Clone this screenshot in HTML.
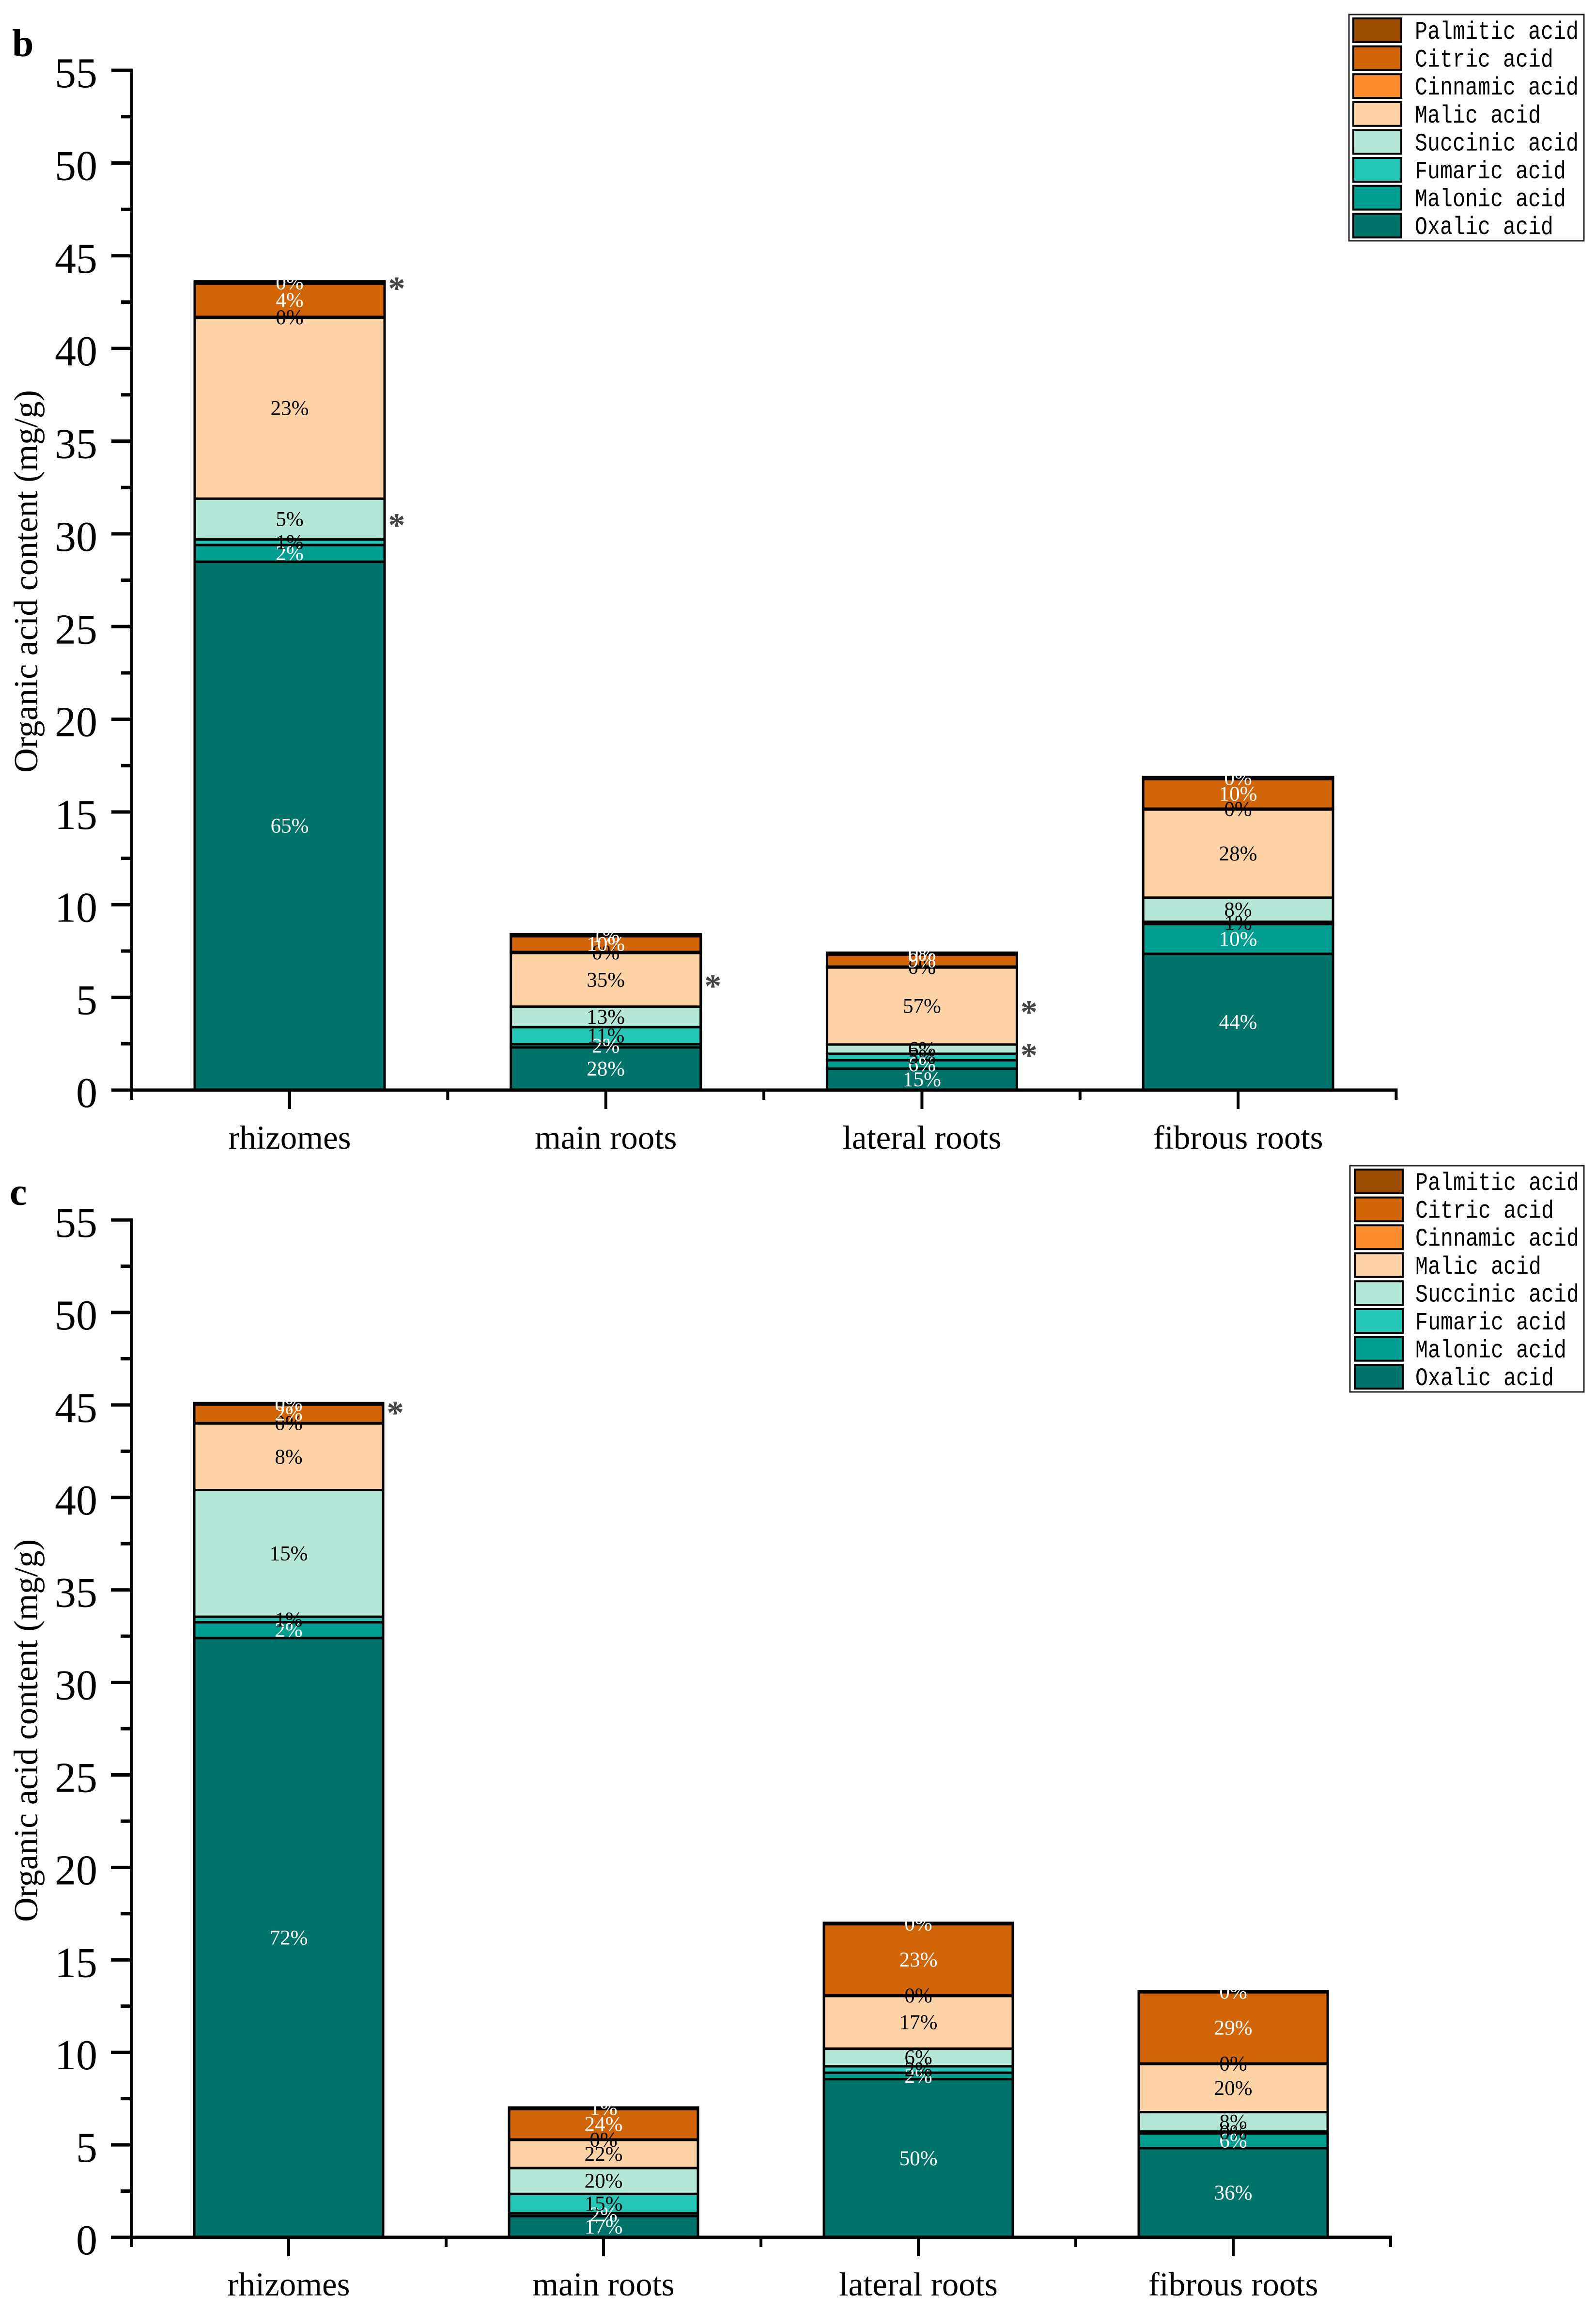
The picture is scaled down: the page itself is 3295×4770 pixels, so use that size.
<!DOCTYPE html>
<html lang="en">
<head>
<meta charset="utf-8">
<title>Organic acid content in plant parts</title>
<style>
html,body{margin:0;padding:0;background:#fff;}
svg{display:block;}
</style>
</head>
<body>
<svg id="figure" xmlns="http://www.w3.org/2000/svg" width="3295" height="4770" viewBox="0 0 3295 4770"></svg>
<script>
const categories = ['rhizomes', 'main roots', 'lateral roots', 'fibrous roots'];
const seriesNames = ['Oxalic acid', 'Malonic acid', 'Fumaric acid', 'Succinic acid', 'Malic acid', 'Cinnamic acid', 'Citric acid', 'Palmitic acid'];
const seriesColors = ['#00736b', '#009e90', '#26c6b6', '#b5e8d8', '#fdd3a6', '#fe8c2d', '#d16508', '#9a4b00'];
const labelColors = ['#fff', '#fff', '#000', '#000', '#000', '#000', '#fff', '#fff'];
const yMajorTicks = [0, 5, 10, 15, 20, 25, 30, 35, 40, 45, 50, 55];
const yMinorTicks = [2.5, 7.5, 12.5, 17.5, 22.5, 27.5, 32.5, 37.5, 42.5, 47.5, 52.5];

/* panel b values (mg/g) */
const bOxalic = [28.5, 2.3, 1.16, 7.35];
const bMalonic = [0.9, 0.17, 0.45, 1.6];
const bFumaric = [0.3, 0.93, 0.35, 0.13];
const bSuccinic = [2.2, 1.1, 0.5, 1.3];
const bMalic = [9.75, 2.9, 4.15, 4.75];
const bCinnamic = [0.05, 0.05, 0.05, 0.05];
const bCitric = [1.8, 0.85, 0.65, 1.6];
const bPalmitic = [0.12, 0.1, 0.1, 0.1];
/* panel b printed percentages */
const bOxalicPct = ['65%', '28%', '15%', '44%'];
const bMalonicPct = ['2%', '2%', '6%', '10%'];
const bFumaricPct = ['1%', '11%', '5%', '1%'];
const bSuccinicPct = ['5%', '13%', '6%', '8%'];
const bMalicPct = ['23%', '35%', '57%', '28%'];
const bCinnamicPct = ['0%', '0%', '0%', '0%'];
const bCitricPct = ['4%', '10%', '9%', '10%'];
const bPalmiticPct = ['0%', '1%', '0%', '0%'];
const bStarCategories = [0, 0, 1, 2, 2];
const bStarSeries = [7, 3, 4, 4, 3];

/* panel c values (mg/g) */
const cOxalic = [32.4, 1.15, 8.55, 4.82];
const cMalonic = [0.85, 0.15, 0.35, 0.8];
const cFumaric = [0.3, 1.05, 0.35, 0.1];
const cSuccinic = [6.85, 1.4, 0.95, 1.05];
const cMalic = [3.6, 1.52, 2.85, 2.6];
const cCinnamic = [0.02, 0.02, 0.03, 0.03];
const cCitric = [1.0, 1.65, 3.85, 3.85];
const cPalmitic = [0.08, 0.08, 0.07, 0.05];
/* panel c printed percentages */
const cOxalicPct = ['72%', '17%', '50%', '36%'];
const cMalonicPct = ['2%', '2%', '2%', '6%'];
const cFumaricPct = ['1%', '15%', '2%', '0%'];
const cSuccinicPct = ['15%', '20%', '6%', '8%'];
const cMalicPct = ['8%', '22%', '17%', '20%'];
const cCinnamicPct = ['0%', '0%', '0%', '0%'];
const cCitricPct = ['2%', '24%', '23%', '29%'];
const cPalmiticPct = ['0%', '1%', '0%', '0%'];
const cStarCategories = [0];
const cStarSeries = [7];

const svg = document.getElementById('figure');
const NS = 'http://www.w3.org/2000/svg';
const SERIF = '"Liberation Serif", serif';

function make(tag, attrs, text) {
  const el = document.createElementNS(NS, tag);
  for (const k in attrs) el.setAttribute(k, attrs[k]);
  if (text !== undefined) el.textContent = text;
  svg.appendChild(el);
  return el;
}

function drawPanel(p) {
  const yScale = v => p.y0 - v * p.pxPerUnit;
  const xScale = i => p.xFirst + i * p.step;
  const barW = p.barW;

  /* panel letter */
  const letter = make('text', {x: p.letterX, y: p.letterY, 'font-family': SERIF, 'font-size': 80, 'font-weight': 'bold', fill: '#000'}, p.letter);
  
  

  /* stacked bars */
  const cumulative = categories.map(() => 0);
  const centers = p.values.map(() => []);
  p.values.forEach((vals, s) => {
    vals.forEach((v, c) => {
      const bottom = cumulative[c];
      const top = bottom + v;
      cumulative[c] = top;
      centers[s][c] = (bottom + top) / 2;
      const rect = make('rect', {x: xScale(c) - barW / 2, y: yScale(top), width: barW, height: Math.max(yScale(bottom) - yScale(top), 0.5), fill: seriesColors[s], stroke: '#000', 'stroke-width': 5});
      
      
    });
  });

  /* percentage labels */
  p.pcts.forEach((labels, s) => {
    labels.forEach((t, c) => {
      const label = make('text', {x: xScale(c), y: yScale(centers[s][c]) + 14, 'text-anchor': 'middle', 'font-family': SERIF, 'font-size': 43, fill: labelColors[s]}, t);
      
      
    });
  });

  /* significance stars */
  p.starCats.forEach((c, i) => {
    const star = make('text', {x: xScale(c) + barW / 2 + 25, y: yScale(centers[p.starSeries[i]][c]) + p.starDy, 'text-anchor': 'middle', 'font-family': SERIF, 'font-size': 70, 'font-weight': 'bold', fill: '#444'}, '*');
    
    
  });

  /* y axis */
  const yAxis = make('rect', {x: p.xAxisStart - 3, y: yScale(55) - 3.5, width: 6, height: p.y0 + 20 - yScale(55) + 3.5, fill: '#000'});
  
  
  yMajorTicks.forEach(v => {
    const tick = make('rect', {x: p.xAxisStart - 42, y: yScale(v) - 3.5, width: 42, height: 7, fill: '#000'});
    
    
    const lab = make('text', {x: 201, y: yScale(v) + 35, 'text-anchor': 'end', 'font-family': SERIF, 'font-size': 88, fill: '#000'}, String(v));
    
    
  });
  yMinorTicks.forEach(v => {
    const tick = make('rect', {x: p.xAxisStart - 22, y: yScale(v) - 3.5, width: 22, height: 7, fill: '#000'});
    
    
  });

  /* x axis */
  const xAxis = make('rect', {x: p.xAxisStart - 42, y: p.y0 - 3.5, width: xScale(categories.length - 1) + p.step / 2 - p.xAxisStart + 45, height: 7, fill: '#000'});
  
  
  categories.forEach((name, c) => {
    const tick = make('rect', {x: xScale(c) - 3, y: p.y0, width: 6, height: 39, fill: '#000'});
    
    
    const minor = make('rect', {x: xScale(c) + p.step / 2 - 3, y: p.y0, width: 6, height: 20, fill: '#000'});
    
    
    const lab = make('text', {x: xScale(c), y: p.xLabelY, 'text-anchor': 'middle', 'font-family': SERIF, 'font-size': 69, fill: '#000'}, name);
    
    
  });

  /* y title */
  const title = make('text', {transform: 'translate(77 ' + p.titleY + ') rotate(-90)', 'text-anchor': 'middle', 'font-family': SERIF, 'font-size': 70, fill: '#000'}, 'Organic acid content (mg/g)');
  
  

  /* legend */
  const box = make('rect', {x: p.legX, y: p.legY, width: 3270 - p.legX, height: p.legH, fill: '#fff', stroke: '#222', 'stroke-width': 3});
  
  
  for (let i = 0; i < seriesNames.length; i++) {
    const s = seriesNames.length - 1 - i;
    const rowY = p.swatchY + i * 57.6;
    const sw = make('rect', {x: p.swatchX + 2, y: rowY + 2, width: 99, height: 49, fill: seriesColors[s], stroke: '#000', 'stroke-width': 4});
    
    
    const t = make('text', {x: p.legTextX, y: rowY + 44, 'font-family': '"Liberation Mono", monospace', 'font-size': 52, fill: '#000', textLength: seriesNames[s].length * 26, lengthAdjust: 'spacingAndGlyphs'}, seriesNames[s]);
    
    
  }
}

drawPanel({
  letter: 'b', letterX: 25, letterY: 116,
  y0: 2250, pxPerUnit: 38.27, xFirst: 598, step: 652.7, barW: 392, xAxisStart: 272,
  xLabelY: 2371, titleY: 1200, starDy: 36,
  legX: 2785, legY: 30, legH: 467, swatchX: 2792, swatchY: 36, legTextX: 2921,
  values: [bOxalic, bMalonic, bFumaric, bSuccinic, bMalic, bCinnamic, bCitric, bPalmitic],
  pcts: [bOxalicPct, bMalonicPct, bFumaricPct, bSuccinicPct, bMalicPct, bCinnamicPct, bCitricPct, bPalmiticPct],
  starCats: bStarCategories, starSeries: bStarSeries
});
drawPanel({
  letter: 'c', letterX: 20, letterY: 2487,
  y0: 4618, pxPerUnit: 38.18, xFirst: 596, step: 650, barW: 390, xAxisStart: 271,
  xLabelY: 4738, titleY: 3572, starDy: 42,
  legX: 2787, legY: 2406, legH: 467, swatchX: 2795, swatchY: 2412, legTextX: 2922,
  values: [cOxalic, cMalonic, cFumaric, cSuccinic, cMalic, cCinnamic, cCitric, cPalmitic],
  pcts: [cOxalicPct, cMalonicPct, cFumaricPct, cSuccinicPct, cMalicPct, cCinnamicPct, cCitricPct, cPalmiticPct],
  starCats: cStarCategories, starSeries: cStarSeries
});
</script>
</body>
</html>
